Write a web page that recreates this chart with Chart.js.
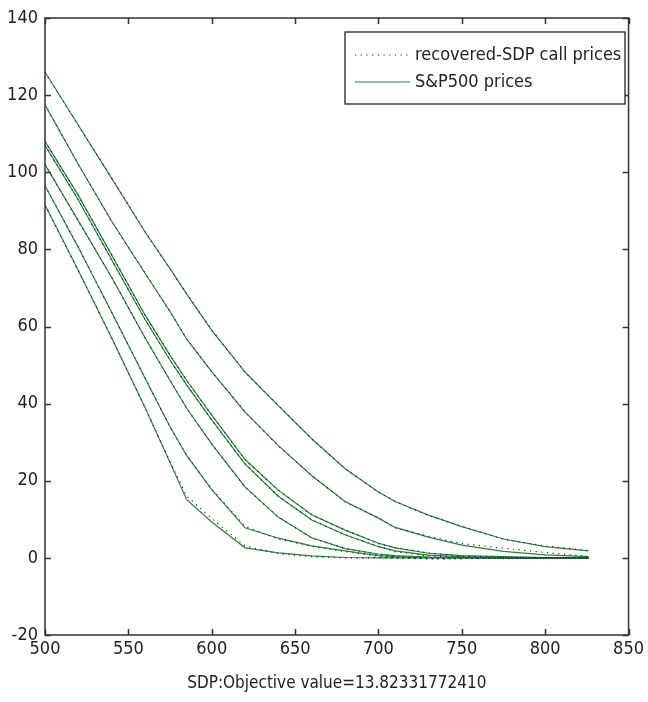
<!DOCTYPE html>
<html>
<head>
<meta charset="utf-8">
<script src="https://cdn.jsdelivr.net/npm/chart.js@4.4.1/dist/chart.umd.min.js"></script>
<style>
html, body { margin: 0; padding: 0; background: #fff; }
</style>
</head>
<body>
<canvas id="chart" width="648" height="702"></canvas>
<script>
// strike prices (x axis)
var strikes = [500, 520, 540, 560, 575, 585, 600, 620, 640, 660, 680, 700, 710, 730, 750, 775, 800, 826];

// S&P500 call prices, one array per maturity
var market1 = [126, 112.2, 98.4, 84.5, 75, 68.4, 59, 48.2, 39.4, 30.9, 23.1, 17.1, 14.6, 11.1, 8.1, 4.9, 2.9, 1.8];
var market2 = [117.5, 102, 87.3, 73.8, 63.9, 56.7, 48.3, 37.8, 29.1, 21.3, 14.6, 10.3, 7.9, 5.4, 3.3, 1.7, 0.8, 0.3];
var market3 = [108, 94, 78.5, 63, 52.5, 46, 37, 25.5, 17.5, 11.2, 7.2, 3.8, 2.6, 1.2, 0.6, 0.3, 0.1, 0];
var market4 = [107, 92.8, 77.3, 61.8, 51.3, 44.8, 35.8, 24.3, 16, 9.8, 6, 2.9, 1.8, 0.7, 0.3, 0.1, 0, 0];
var market5 = [102, 87.4, 72.7, 57.1, 46, 38.8, 29.5, 18.4, 10.5, 5.2, 2.4, 1, 0.6, 0.2, 0.1, 0, 0, 0];
var market6 = [96.5, 80.5, 63.7, 46.6, 34, 26.5, 17.7, 7.8, 5.1, 3.1, 1.8, 0.6, 0.3, 0.1, 0, 0, 0, 0];
var market7 = [91.5, 74.5, 57, 39, 24.7, 15.1, 9.3, 2.6, 1.3, 0.5, 0.1, 0, 0, 0, 0, 0, 0, 0];

// recovered-SDP call prices
var recovered1 = [126, 112.1, 98.5, 84.6, 74.9, 68.5, 59.1, 48.1, 39.5, 30.8, 23.2, 17, 14.7, 11, 8.2, 4.8, 3.1, 1.9];
var recovered2 = [117.5, 102.1, 87.2, 73.9, 63.8, 56.8, 48.2, 37.9, 29, 21.4, 14.5, 10.4, 7.8, 5.6, 3.7, 2.5, 1.4, 0.4];
var recovered3 = [108, 93.9, 78.6, 62.9, 52.6, 45.9, 37.1, 25.4, 17.6, 11.1, 7.3, 3.7, 2.7, 1.3, 0.5, 0.2, 0, 0];
var recovered4 = [107, 92.9, 77.2, 61.9, 51.2, 44.9, 35.7, 24.4, 15.9, 9.9, 5.9, 3, 1.6, 0.5, 0.2, -0.2, -0.1, 0];
var recovered5 = [102, 87.3, 72.8, 57, 46.1, 38.7, 29.6, 18.3, 10.6, 5.1, 2.5, 0.8, 0.4, -0.2, -0.2, 0, 0, 0];
var recovered6 = [96.5, 80.6, 63.6, 46.7, 33.9, 26.6, 17.8, 8.2, 4.9, 3, 1.6, 0.4, 0, -0.3, -0.2, 0, 0, 0];
var recovered7 = [91.5, 74.4, 57.1, 38.9, 25, 16, 10.2, 3.1, 1.1, 0.3, 0, 0, 0, 0, 0, 0, 0, 0];

var market = [market1, market2, market3, market4, market5, market6, market7];
var recovered = [recovered1, recovered2, recovered3, recovered4, recovered5, recovered6, recovered7];

var xTicksStep = 50;
var yTicksStep = 20;
var xTitle = 'SDP:Objective value=13.82331772410';
var legendLabels = ['recovered-SDP call prices', 'S&P500 prices'];

var FONT = "'Liberation Sans Narrow', 'Arial Narrow', 'DejaVu Sans Condensed', sans-serif";
var GREEN = '#23892a';
var BLUE = '#17176e';

Chart.defaults.font.family = FONT;
Chart.defaults.font.size = 18;
Chart.defaults.color = '#222';

function toPoints(ys) {
    return strikes.map(function (k, i) { return { x: k, y: ys[i] }; });
}

var datasets = [];
recovered.forEach(function (ys) {
    datasets.push({
        label: legendLabels[0],
        data: toPoints(ys),
        borderColor: BLUE,
        borderWidth: 1.1,
        borderDash: [1.2, 4.5],
        pointRadius: 0,
        tension: 0,
        order: 0
    });
});
market.forEach(function (ys) {
    datasets.push({
        label: legendLabels[1],
        data: toPoints(ys),
        borderColor: GREEN,
        borderWidth: 1.2,
        pointRadius: 0,
        tension: 0,
        order: 1
    });
});

// matlab style box, inward ticks and legend
var matlabFrame = {
    id: 'matlabFrame',
    afterDraw: function (chart) {
        var ctx = chart.ctx, a = chart.chartArea;
        var xs = chart.scales.x, ys = chart.scales.y;
        ctx.save();
        ctx.strokeStyle = '#333';
        ctx.lineWidth = 1.5;
        ctx.strokeRect(a.left, a.top, a.right - a.left, a.bottom - a.top);
        ctx.beginPath();
        xs.ticks.forEach(function (t) {
            var p = Math.round(xs.getPixelForValue(t.value)) + 0.5;
            ctx.moveTo(p, a.bottom); ctx.lineTo(p, a.bottom - 6);
            ctx.moveTo(p, a.top); ctx.lineTo(p, a.top + 6);
        });
        ys.ticks.forEach(function (t) {
            var p = Math.round(ys.getPixelForValue(t.value)) + 0.5;
            ctx.moveTo(a.left, p); ctx.lineTo(a.left + 6, p);
            ctx.moveTo(a.right, p); ctx.lineTo(a.right - 6, p);
        });
        ctx.stroke();

        // legend box
        var bx = a.left + 300, by = a.top + 14, bw = 280, bh = 72;
        ctx.fillStyle = '#fff';
        ctx.fillRect(bx, by, bw, bh);
        ctx.strokeStyle = '#222';
        ctx.lineWidth = 1.3;
        ctx.strokeRect(bx, by, bw, bh);
        ctx.font = '18px ' + FONT;
        ctx.textBaseline = 'middle';
        ctx.fillStyle = '#222';
        var rows = [datasets[0], datasets[recovered.length]];
        rows.forEach(function (ds, i) {
            var yy = by + 23 + i * 27;
            ctx.beginPath();
            ctx.strokeStyle = ds.borderColor;
            ctx.lineWidth = ds.borderWidth;
            ctx.setLineDash(ds.borderDash || []);
            ctx.moveTo(bx + 10, yy);
            ctx.lineTo(bx + 65, yy);
            ctx.stroke();
            ctx.setLineDash([]);
            ctx.fillText(ds.label, bx + 70, yy);
        });
        ctx.restore();
    }
};

new Chart(document.getElementById('chart'), {
    type: 'line',
    data: { datasets: datasets },
    options: {
        responsive: false,
        animation: false,
        layout: { padding: { top: 18, right: 16, left: 0, bottom: 0 } },
        plugins: { legend: { display: false }, tooltip: { enabled: false } },
        scales: {
            x: {
                type: 'linear',
                min: 500, max: 850,
                ticks: { stepSize: xTicksStep, padding: 4, maxRotation: 0 },
                grid: { display: false, drawTicks: false },
                border: { display: false },
                title: { display: true, text: xTitle, font: { size: 17 }, padding: { top: 0, bottom: 8 } },
                afterFit: function (s) { s.height = 67; }
            },
            y: {
                min: -20, max: 140,
                ticks: { stepSize: yTicksStep, padding: 7 },
                grid: { display: false, drawTicks: false },
                border: { display: false },
                afterFit: function (s) { s.width = 45; }
            }
        }
    },
    plugins: [matlabFrame]
});
</script>
</body>
</html>
